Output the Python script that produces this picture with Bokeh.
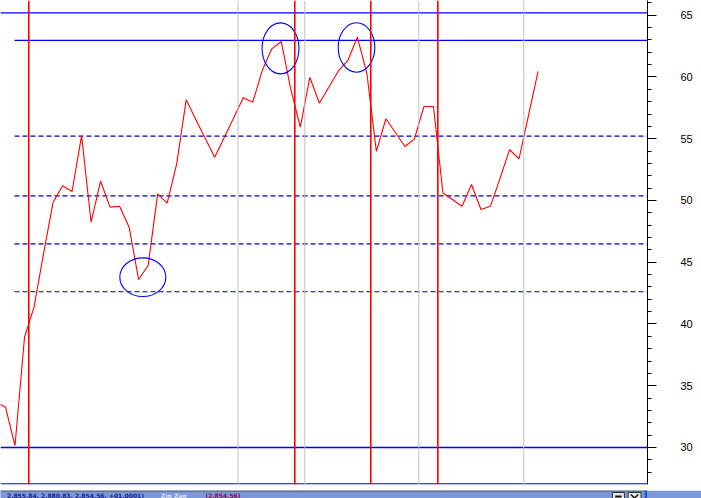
from bokeh.plotting import figure
from bokeh.models import Range1d, SingleIntervalTicker, Span
from bokeh.layouts import column
from bokeh.embed import file_html
from bokeh.resources import INLINE
from bokeh.core.properties import value

# ---- data ----
bars = list(range(-1, 57))
close = [33.7, 33.26, 30.16, 38.93, 41.36, 45.7, 49.84, 51.19, 50.73, 55.26,
         48.24, 51.56, 49.46, 49.54, 47.84, 43.60, 44.74, 50.54, 49.78, 52.97,
         58.15, 56.57, 55.04, 53.51, 55.1, 56.70, 58.32, 57.96, 60.53, 62.28,
         62.87, 58.99, 55.94, 59.98, 57.88, 59.17, 60.49, 61.34, 63.22, 60.28,
         53.97, 56.62, 55.51, 54.37, 54.99, 57.61, 57.61, 50.61, 50.08, 49.54,
         51.30, 49.27, 49.54, 51.79, 54.11, 53.38, 56.91, 60.45]

solid_levels_full = [65.2, 30.0, 27.06]
solid_levels_short = [62.96]
dashed_levels = [55.22, 50.38, 46.49, 42.61]

red_marks = [2.45, 30.42, 38.41, 45.46]
gray_marks = [24.45, 31.47, 43.46, 54.50]

circle_x = [14.44, 28.92, 36.91]
circle_y = [43.79, 62.32, 62.39]
circle_w = [4.84, 3.89, 3.85]
circle_h = [3.13, 4.13, 4.0]

status_values = "2,855.84, 2,880.83, 2,854.56, +01.0001)"
status_name = "Zig Zag"
status_last = "(2,854.56)"

# ---- main chart ----
X0, X1 = -0.5258, 67.508
p = figure(width=701, height=488, output_backend="svg", toolbar_location=None,
           x_range=Range1d(X0, X1), y_range=Range1d(27.004, 66.194),
           x_axis_location=None, y_axis_location="right",
           min_border_left=0, min_border_top=0, min_border_bottom=4,
           min_border_right=54)
p.outline_line_color = None
p.xgrid.visible = False
p.ygrid.visible = False
p.background_fill_color = "white"
p.border_fill_color = "white"

ax = p.yaxis[0]
ax.ticker = SingleIntervalTicker(interval=5, num_minor_ticks=5)
ax.axis_line_color = "black"
ax.major_tick_in = 0
ax.major_tick_out = 9
ax.minor_tick_in = 0
ax.minor_tick_out = 4
ax.major_label_standoff = 24
ax.major_label_text_font = "Liberation Sans"
ax.major_label_text_font_size = "11px"
ax.major_label_text_color = "black"

for g in gray_marks:
    p.add_layout(Span(location=g, dimension="height", line_color="#c0c0c0", line_width=1))

p.segment(x0=[X0] * len(solid_levels_full), x1=[X1] * len(solid_levels_full),
          y0=solid_levels_full, y1=solid_levels_full, line_color="#0000ff", line_width=1.3)
p.segment(x0=[0.946] * len(solid_levels_short), x1=[X1] * len(solid_levels_short),
          y0=solid_levels_short, y1=solid_levels_short, line_color="#0000ff", line_width=1.3)
p.segment(x0=[0.946] * len(dashed_levels), x1=[X1] * len(dashed_levels),
          y0=dashed_levels, y1=dashed_levels, line_color="#0000c8", line_width=1.2,
          line_dash="5 3")

for r in red_marks:
    p.add_layout(Span(location=r, dimension="height", line_color="#ff0000", line_width=1.6))

p.line(bars, close, line_color="#ff0000", line_width=1.1)

p.ellipse(x=circle_x, y=circle_y, width=circle_w, height=circle_h,
          fill_color=None, line_color="#0000ff", line_width=1.1)

# ---- status bar ----
s = figure(width=701, height=10, output_backend="svg", toolbar_location=None,
           x_range=Range1d(0, 701), y_range=Range1d(498, 488),
           x_axis_location=None, y_axis_location=None,
           min_border=0, min_border_left=0, min_border_right=0,
           min_border_top=0, min_border_bottom=0)
s.outline_line_color = None
s.xgrid.visible = False
s.ygrid.visible = False
s.background_fill_color = "#7d98d9"
s.border_fill_color = "#7d98d9"
s.quad(left=[0], right=[701], top=[488], bottom=[489], fill_color="#505050", line_color=None)
txt = dict(text_baseline="top", text_align="left", text_font=value("DejaVu Sans"),
           text_font_size="6px", text_font_style="bold")
s.text(x=[7], y=[489.6], text=[status_values], text_color="#14248f", **txt)
s.text(x=[174], y=[489.6], text=[status_name], text_color="#dfe6ff", **txt)
s.text(x=[222], y=[489.6], text=[status_last], text_color="#8c0a55", **txt)
s.quad(left=[663, 680], right=[676, 694], top=[490, 490], bottom=[499, 499],
       fill_color="#e8e8e8", line_color="#303030", line_width=1)
s.quad(left=[666], right=[673], top=[493], bottom=[495], fill_color="#101010", line_color=None)
s.segment(x0=[683, 691], x1=[691, 683], y0=[492, 492], y1=[499, 499],
          line_color="#101010", line_width=1.5)
s.quad(left=[698], right=[701], top=[488], bottom=[498], fill_color="#2050d0", line_color=None)

layout = column(p, s, spacing=0)
open("out.html", "w").write(file_html(layout, INLINE))
